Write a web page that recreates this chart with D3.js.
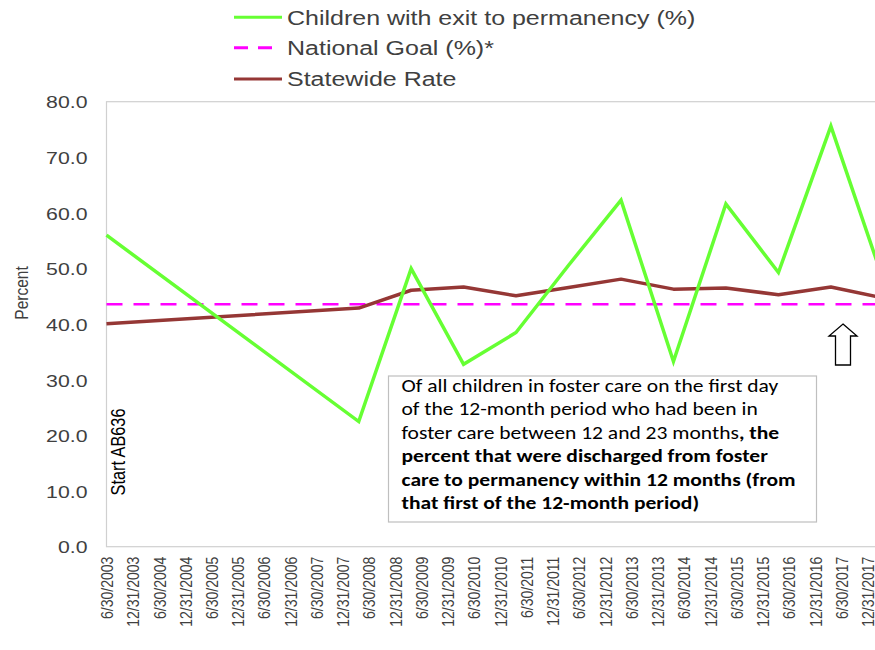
<!DOCTYPE html>
<html><head><meta charset="utf-8">
<script src="https://cdn.jsdelivr.net/npm/d3@7"></script>
<style>body{margin:0;background:#fff;} svg{display:block;}</style>
</head><body>
<svg id="chart" width="875" height="650"></svg>
<script>
const xLabels = ["6/30/2003","12/31/2003","6/30/2004","12/31/2004","6/30/2005","12/31/2005","6/30/2006","12/31/2006","6/30/2007","12/31/2007","6/30/2008","12/31/2008","6/30/2009","12/31/2009","6/30/2010","12/31/2010","6/30/2011","12/31/2011","6/30/2012","12/31/2012","6/30/2013","12/31/2013","6/30/2014","12/31/2014","6/30/2015","12/31/2015","6/30/2016","12/31/2016","6/30/2017","12/31/2017"];
const pointDates = ["6/30/2003","4/20/2008","4/20/2009","4/20/2010","4/20/2011","4/20/2012","4/20/2013","4/20/2014","4/20/2015","4/20/2016","4/20/2017","4/20/2018"];
const exitToPermanency = [56.0,22.5,50.0,32.8,38.5,50.6,62.3,33.3,61.6,49.3,75.6,47.9];
const statewideRate = [40.1,42.9,46.1,46.7,45.1,46.6,48.1,46.3,46.5,45.3,46.7,44.7];
const nationalGoal = 43.6;
const yTicks = [0,10,20,30,40,50,60,70,80];
const seriesNames = ["Children with exit to permanency (%)","National Goal (%)*","Statewide Rate"];
const boxLines = [
  [["Of all children in foster care on the first day", false]],
  [["of the 12-month period who had been in", false]],
  [["foster care between 12 and 23 months", false], [", the", true]],
  [["percent that were discharged from foster", true]],
  [["care to permanency within 12 months (from", true]],
  [["that first of the 12-month period)", true]]
];

const parse = s => { const [m,d,y] = s.split("/").map(Number); return new Date(y, m-1, d); };
const SX = 1.23;
const svg = d3.select("#chart");
const pLeft = 106.5, pTop = 101.7, pBottom = 546.7;

const x = d3.scaleTime().domain([parse(xLabels[0]), parse(xLabels[xLabels.length-1])]).range([pLeft, 867.5]);
const y = d3.scaleLinear().domain([0, 80]).range([pBottom, pTop]);

// plot frame
svg.append("rect").attr("x", pLeft).attr("y", pTop).attr("width", 900 - pLeft).attr("height", pBottom - pTop)
  .attr("fill", "none").attr("stroke", "#d0d0d0").attr("stroke-width", 1.2);

// y axis labels
const yAxis = d3.axisLeft(y).tickValues(yTicks).tickFormat(d3.format(".1f")).tickSize(0).tickPadding(0);
const yg = svg.append("g").attr("transform", `translate(${pLeft},0)`).call(yAxis);
yg.select(".domain").remove();
yg.selectAll(".tick text")
  .attr("x", null).attr("dy", null).attr("y", null)
  .attr("transform", `translate(${87.5 - pLeft},6.2) scale(${SX},1)`)
  .attr("text-anchor", "end").attr("font-family", "Liberation Sans, Arial, sans-serif")
  .attr("font-size", 17.3).attr("fill", "#404040");

// x axis labels
const xAxis = d3.axisBottom(x).tickValues(xLabels.map(parse)).tickFormat((d,i) => xLabels[i]).tickSize(0).tickPadding(0);
const xg = svg.append("g").attr("transform", `translate(0,${pBottom})`).call(xAxis);
xg.select(".domain").remove();
xg.selectAll(".tick text")
  .attr("y", null).attr("dy", null)
  .attr("transform", `translate(0,10) scale(${SX},1) rotate(-90)`)
  .attr("text-anchor", "end").attr("dominant-baseline", "central")
  .attr("font-family", "Liberation Sans, Arial, sans-serif").attr("font-size", 14).attr("fill", "#404040");

// Percent title
svg.append("text").attr("transform", `translate(21,293) scale(${SX},1) rotate(-90)`)
  .attr("text-anchor", "middle").attr("dominant-baseline", "central")
  .attr("font-family", "Liberation Sans, Arial, sans-serif").attr("font-size", 15.5).attr("fill", "#404040").text("Percent");

// Start AB636
svg.append("text").attr("transform", `translate(118,452) scale(${SX},1) rotate(-90)`)
  .attr("text-anchor", "middle").attr("dominant-baseline", "central")
  .attr("font-family", "Liberation Sans, Arial, sans-serif").attr("font-size", 16.3).attr("fill", "#000").text("Start AB636");

// national goal
svg.append("line").attr("x1", x(parse(xLabels[0]))).attr("x2", 900)
  .attr("y1", y(nationalGoal)).attr("y2", y(nationalGoal))
  .attr("stroke", "#ff00ff").attr("stroke-width", 2.5).attr("stroke-dasharray", "16,11");

const line = d3.line().x(d => x(d[0])).y(d => y(d[1]));
const dates = pointDates.map(parse);
svg.append("path").datum(dates.map((d,i)=>[d, statewideRate[i]])).attr("d", line)
  .attr("fill","none").attr("stroke","#953735").attr("stroke-width",3.5).attr("stroke-linejoin","round");
svg.append("path").datum(dates.map((d,i)=>[d, exitToPermanency[i]])).attr("d", line)
  .attr("fill","none").attr("stroke","#66ff33").attr("stroke-width",3.5).attr("stroke-linejoin","miter");

// legend
const legColors = ["#66ff33","#ff00ff","#953735"];
const legY = [17.3, 47.7, 79];
seriesNames.forEach((n,i) => {
  svg.append("line").attr("x1", 234).attr("x2", 282).attr("y1", legY[i]).attr("y2", legY[i])
    .attr("stroke", legColors[i]).attr("stroke-width", 3).attr("stroke-dasharray", i===1 ? "14,10" : null);
  svg.append("text").attr("transform", `translate(287,${legY[i]+7.2}) scale(1.25,1)`)
    .attr("font-family", "Liberation Sans, Arial, sans-serif").attr("font-size", 20).attr("fill", "#404040").text(n);
});

// text box
svg.append("rect").attr("x", 388.5).attr("y", 376).attr("width", 428).attr("height", 146)
  .attr("fill", "#fff").attr("stroke", "#bfbfbf").attr("stroke-width", 1.2);
const tg = svg.append("g");
const lineNodes = boxLines.map((ln, i) => {
  const t = tg.append("text").attr("x", 0).attr("y", i * 23.5)
    .attr("font-family", "Carlito, Lato, sans-serif").attr("font-size", 17.5).attr("fill", "#000");
  ln.forEach(([s,b]) => t.append("tspan").attr("font-weight", b ? "bold" : "normal").text(s));
  return t.node();
});
const w0 = lineNodes[0].getComputedTextLength();
tg.attr("transform", `translate(401.5,392) scale(${377 / w0},1)`);

// arrow
const ax = 843, ay = 324;
const arrowPts = [[0,0],[14,12],[7.5,12],[7.5,41],[-7.5,41],[-7.5,12],[-14,12]];
svg.append("polygon").attr("points", arrowPts.map(p => [ax+p[0], ay+p[1]].join(",")).join(" "))
  .attr("fill","#fff").attr("stroke","#000").attr("stroke-width",1.3);
</script>
</body></html>
